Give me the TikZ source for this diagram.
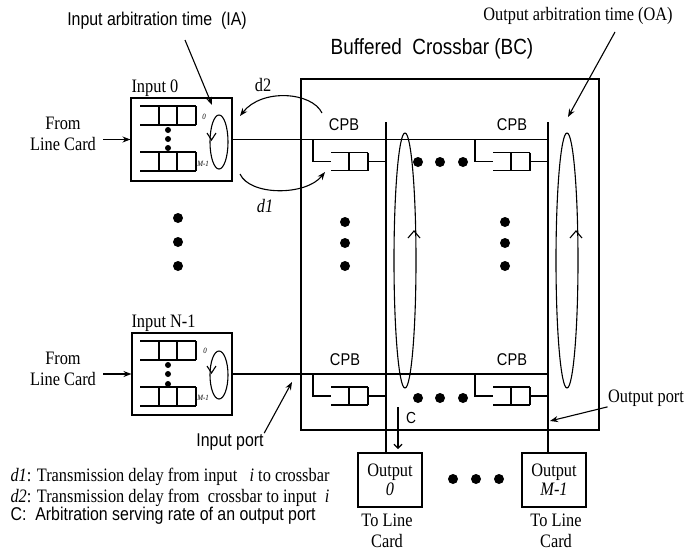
\documentclass[tikz,border=0pt]{standalone}
\usepackage{fontspec}
\setmainfont[FakeStretch=0.86]{Liberation Serif}
\setsansfont[FakeStretch=0.86]{Liberation Sans}
\usetikzlibrary{arrows.meta,shapes.geometric}
\begin{document}
\begin{tikzpicture}[x=1pt,y=-1pt,line width=1.1pt,
 txt/.style={font=\fontsize{19}{21}\selectfont,inner sep=0pt,align=center},
 stxt/.style={font=\sffamily\fontsize{18.5}{21}\selectfont,inner sep=0pt,align=center},
 tinylbl/.style={font=\itshape\fontsize{8}{9}\selectfont,inner sep=0pt},
 box/.style={draw,rectangle,inner sep=0pt},
 arr/.style={-{Stealth[length=8pt,width=6pt]}},
 bigdot/.style={circle,fill,inner sep=0pt,minimum size=10pt},
 smalldot/.style={circle,fill,inner sep=0pt,minimum size=6pt},
 loopell/.style={draw,ellipse,inner sep=0pt},
 inq/.pic={\draw (0,0)--(56,0) (0,19)--(56,19) (19,0)--(19,19) (37,0)--(37,19) (56,0)--(56,19);},
 cpbq/.pic={\draw (0,0)--(0,22)--(18,22) (18,13)--(55,13) (18,31)--(55,31) (36,13)--(36,31) (55,13)--(55,31) (55,22)--(73,22);},
]
\useasboundingbox (0,0) rectangle (686,552);

% crossbar
\node[box,minimum width=298,minimum height=351] (xbar) at (450,254.5) {};
\node[stxt,font=\sffamily\fontsize{22}{24}\selectfont] (title) at (432,49) {Buffered\ \ Crossbar (BC)};

% inputs
\node[box,minimum width=101,minimum height=83] (in0) at (181.5,139.5) {};
\node[txt,anchor=south west] (in0l) at (131,97) {Input 0};
\node[box,minimum width=100,minimum height=82] (inN) at (182,374) {};
\node[txt,anchor=south west] (inNl) at (131,332) {Input N-1};

\pic at (140,106) {inq};
\pic at (140,152) {inq};
\pic at (140,341) {inq};
\pic at (140,387) {inq};
\node[tinylbl] (q00) at (204,117) {0};
\node[tinylbl] (q0m) at (203,164) {M-1};
\node[tinylbl] (qN0) at (205,351) {0};
\node[tinylbl] (qNm) at (203,398) {M-1};
\foreach \y [count=\i] in {130,139,148} \node[smalldot] (id0\i) at (168,\y) {};
\foreach \y [count=\i] in {365,374,384} \node[smalldot] (idN\i) at (168,\y) {};

\node[loopell,minimum width=18,minimum height=54] (ia0) at (219,142) {};
\node[loopell,minimum width=18,minimum height=48] (iaN) at (219,375) {};
\draw (207,133) -- (211.5,140) -- (216,133);
\draw (207,366) -- (211.5,373) -- (216,366);

% from line card
\node[txt] (flc0) at (63,134) {From\\Line Card};
\node[txt] (flcN) at (63,369) {From\\Line Card};
\coordinate (f0) at (103,139.5);
\coordinate (fN) at (103,374);
\draw[arr] (f0) -- (in0.west);
\draw[arr] (fN) -- (inN.west);

% left column dots
\foreach \y [count=\i] in {218,242,266} \node[bigdot] (ld\i) at (178,\y) {};

% columns
\coordinate (c0) at (386,122);
\coordinate (c1) at (548,122);
\node[box,minimum width=64,minimum height=54,txt] (out0) at (390,480) {Output\\[-2pt]\textit{0}};
\node[box,minimum width=64,minimum height=54,txt] (outM) at (554,480) {Output\\[-2pt]\textit{M-1}};
\draw (c0) -- (c0 |- out0.north);
\draw (c1) -- (c1 |- outM.north);

% input lines
\draw (in0.east) -- (in0.east -| c1);
\draw (inN.east) -- (inN.east -| c1);

% CPBs
\pic at (313,139.5) {cpbq};
\pic at (475,139.5) {cpbq};
\pic at (313,374) {cpbq};
\pic at (475,374) {cpbq};
\node[stxt,font=\sffamily\fontsize{17}{19}\selectfont] (cpb1) at (344,125) {CPB};
\node[stxt,font=\sffamily\fontsize{17}{19}\selectfont] (cpb2) at (512,125) {CPB};
\node[stxt,font=\sffamily\fontsize{17}{19}\selectfont] (cpb3) at (345,360) {CPB};
\node[stxt,font=\sffamily\fontsize{17}{19}\selectfont] (cpb4) at (512,360) {CPB};

% dots in crossbar
\foreach \x [count=\i] in {418,440,463} \node[bigdot] (rt\i) at (\x,162) {};
\foreach \x [count=\i] in {418,440,463} \node[bigdot] (rb\i) at (\x,398) {};
\foreach \y [count=\i] in {222,243,266} \node[bigdot] (ca\i) at (345,\y) {};
\foreach \y [count=\i] in {222,243,266} \node[bigdot] (cb\i) at (505,\y) {};
\foreach \x [count=\i] in {453,476,499} \node[bigdot] (od\i) at (\x,479) {};

% output arbitration ellipses
\node[loopell,minimum width=22,minimum height=255] (oa0) at (405,260.5) {};
\node[loopell,minimum width=22,minimum height=255] (oa1) at (567,260.5) {};
\draw (408,238) -- (414,231) -- (420,238);
\draw (570,238) -- (576,231) -- (582,238);

% IA / OA labels
\node[stxt] (ia) at (157,21) {Input arbitration time\ \ (IA)};
\coordinate (iaS) at (185,40);
\coordinate (iaT) at (212,105);
\draw[arr] (iaS) -- (iaT);
\node[txt] (oa) at (578,16) {Output arbitration time (OA)};
\coordinate (oaS) at (615,32);
\coordinate (oaT) at (568,117);
\draw[arr] (oaS) -- (oaT);

% d1, d2 arcs
\node[txt] (d2l) at (263,85) {d2};
\node[txt] (d1l) at (265,206) {\textit{d1}};
\coordinate (d2s) at (322,113);
\coordinate (d2e) at (240,116);
\coordinate (d1s) at (240,174);
\coordinate (d1e) at (325,172);
\draw[arr] (d2s) .. controls (312,92) and (262,88) .. (d2e);
\draw[arr] (d1s) .. controls (250,196) and (306,196) .. (d1e);

% C arrow
\coordinate (cS) at (398,407);
\coordinate (cE) at (398,449);
\draw[-{Straight Barb[length=4pt,width=8pt]}] (cS) -- (cE);
\node[stxt,font=\sffamily\fontsize{16}{18}\selectfont] (cl) at (411,418) {C};

% ports
\node[txt] (op) at (646,398) {Output port};
\coordinate (opT) at (550,421);
\draw[arr] (op.south west) -- (opT);
\node[stxt] (ip) at (230,442) {Input port};
\coordinate (ipT) at (292,382);
\draw[arr] (ip.north east) -- (ipT);

% to line card
\node[txt,font=\fontsize{19}{21}\selectfont] (tl0) at (387,531) {To Line\\Card};
\node[txt,font=\fontsize{19}{21}\selectfont] (tlM) at (556,531) {To Line\\Card};

% legend
\node[txt,anchor=west] (lg1) at (10,477) {\textit{d1}: Transmission delay from input \ \ \textit{i} to crossbar};
\node[txt,anchor=west] (lg2) at (10,498) {\textit{d2}: Transmission delay from \ crossbar to input \ \textit{i}};
\node[stxt,anchor=west] (lg3) at (10,516) {C:\ \ Arbitration serving rate of an output port};
\end{tikzpicture}
\end{document}
